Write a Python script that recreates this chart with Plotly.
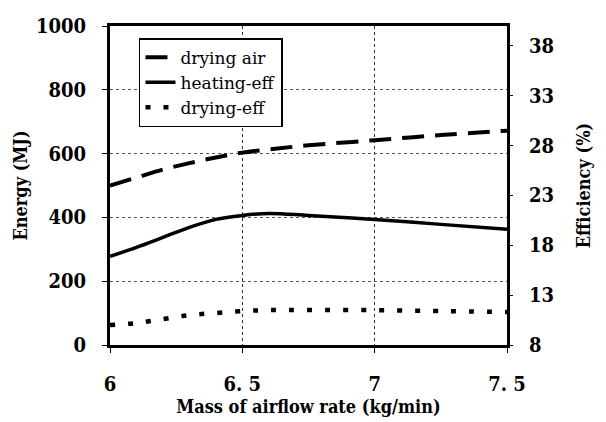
import plotly.graph_objects as go

airflow = [6.0, 6.1, 6.2, 6.3, 6.4, 6.5, 6.6, 6.75, 7.0, 7.25, 7.5]
drying_air = [500, 525, 550, 570, 588, 603, 613, 626, 642, 658, 672]
heating_eff = [16.9, 17.8, 18.8, 19.8, 20.6, 21.0, 21.2, 21.0, 20.6, 20.1, 19.6]
drying_eff = [10.0, 10.2, 10.6, 11.0, 11.2, 11.4, 11.5, 11.5, 11.5, 11.4, 11.3]

x_ticks = [6, 6.5, 7, 7.5]
x_ticktext = ["6", "6. 5", "7", "7. 5"]
y_ticks = [0, 200, 400, 600, 800, 1000]
y2_ticks = [8, 13, 18, 23, 28, 33, 38]

FAMILY = "DejaVu Serif Condensed, DejaVu Serif, serif"
TICK_FONT = dict(family=FAMILY, size=20, color="black", weight="bold")
TITLE_FONT = dict(family=FAMILY, size=18, color="black", weight="bold")

fig = go.Figure()
fig.add_trace(go.Scatter(x=airflow, y=drying_air, name="drying air", mode="lines",
                         line=dict(color="black", width=4, dash="22px,11px", shape="spline")))
fig.add_trace(go.Scatter(x=airflow, y=heating_eff, name="heating-eff", mode="lines", yaxis="y2",
                         line=dict(color="black", width=3.5, shape="spline")))
fig.add_trace(go.Scatter(x=airflow, y=drying_eff, name="drying-eff", mode="lines", yaxis="y2",
                         line=dict(color="black", width=4.5, dash="5px,13px", shape="spline")))

# page body has an 8px default margin, so the figure is sized/margined to compensate
fig.update_layout(
    width=598, height=414,
    margin=dict(l=102, r=99, t=18, b=77),
    paper_bgcolor="white", plot_bgcolor="white",
    showlegend=True,
    legend=dict(x=0.073, y=0.962, xanchor="left", yanchor="top",
                bgcolor="white", bordercolor="black", borderwidth=1.5,
                font=dict(family="DejaVu Serif, serif", size=17, color="black"),
                tracegroupgap=0),
    xaxis=dict(range=[6, 7.5], tickvals=x_ticks, ticktext=x_ticktext, automargin=False,
               showline=True, linecolor="black", linewidth=3, mirror=True,
               ticks="outside", ticklen=5, tickcolor="black",
               showgrid=True, gridcolor="#333", griddash="dot", gridwidth=1,
               zeroline=False, tickfont=TICK_FONT, ticklabelstandoff=14,
               title=dict(text="Mass of airflow rate (kg/min)", font=TITLE_FONT, standoff=0)),
    yaxis=dict(range=[0, 1000], tickvals=y_ticks, automargin=False,
               showline=True, linecolor="black", linewidth=3, mirror=True,
               ticks="outside", ticklen=5, tickcolor="black",
               showgrid=True, gridcolor="#555", griddash="dot", gridwidth=1,
               zeroline=False, tickfont=TICK_FONT, ticklabelstandoff=12,
               title=dict(text="Energy (MJ)", font=TITLE_FONT, standoff=4)),
    yaxis2=dict(range=[8, 40], tickvals=y2_ticks, overlaying="y", side="right", automargin=False,
                showline=False, ticks="outside", ticklen=5, tickcolor="black",
                showgrid=False, zeroline=False, tickfont=TICK_FONT, ticklabelstandoff=12,
                title=dict(text="Efficiency (%)", font=TITLE_FONT, standoff=24)),
)

fig.write_html("out.html")
